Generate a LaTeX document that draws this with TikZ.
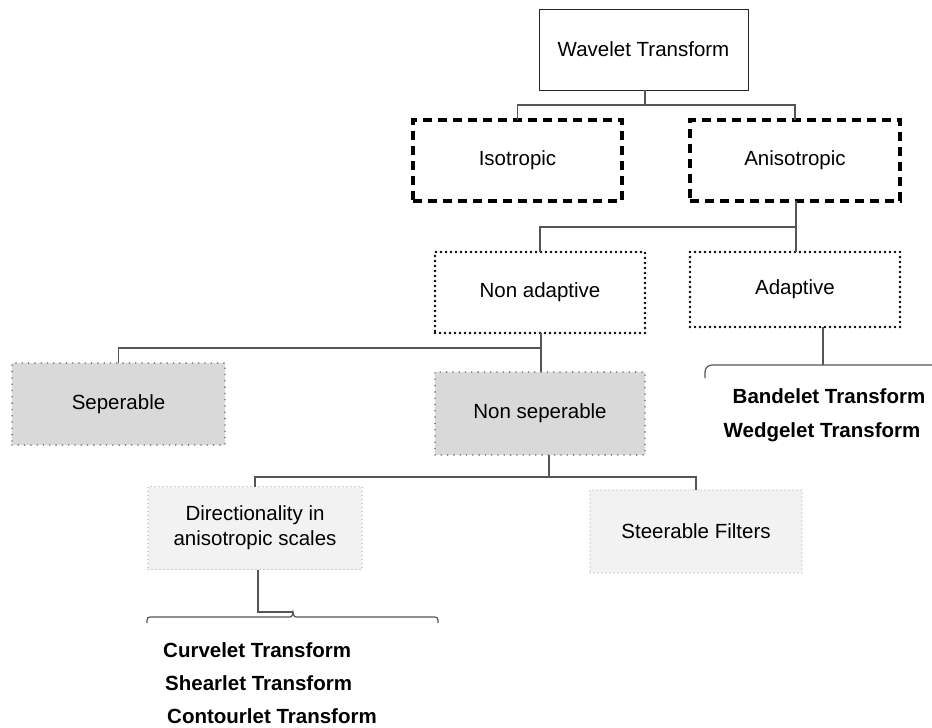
\documentclass[tikz,border=0pt]{standalone}
\usepackage{fontspec}
\setmainfont{Liberation Sans}
\definecolor{connc}{HTML}{555555}
\definecolor{midgray}{HTML}{D9D9D9}
\definecolor{lightgray}{HTML}{F2F2F2}
\definecolor{dotgray}{HTML}{7A7A7A}
\definecolor{dotlight}{HTML}{A6A6A6}
\tikzset{
  basebox/.style={rectangle, inner sep=0pt, outer sep=0pt, align=center,
    font=\fontsize{20.5}{25}\selectfont},
  plainbox/.style={basebox, draw=black!85, line width=1pt, fill=white},
  dashbox/.style={basebox, draw=black, line width=3.2pt, fill=white,
    dash pattern=on 9pt off 6pt},
  dotbox/.style={basebox, draw=black, line width=2.6pt, fill=white,
    line cap=round, dash pattern=on 0pt off 5pt},
  graybox/.style={basebox, draw=dotgray, line width=1.8pt, fill=midgray,
    line cap=round, dash pattern=on 0pt off 6.3pt},
  lightbox/.style={basebox, draw=dotlight, line width=1.4pt, fill=lightgray,
    line cap=round, dash pattern=on 0pt off 4pt},
  conn/.style={draw=connc, line width=1.2pt},
  leaf/.style={inner sep=0pt, font=\fontsize{20.5}{25}\selectfont\bfseries}
}
\begin{document}
\begin{tikzpicture}[x=1pt, y=-1pt]
\useasboundingbox (0,0) rectangle (932,728);

% boxes
\node[plainbox, minimum width=209pt, minimum height=81pt] (wt) at (643.5,49.5) {Wavelet Transform};
\node[dashbox, minimum width=209pt, minimum height=81pt] (iso) at (517.5,160.5) {Isotropic};
\node[dashbox, minimum width=210pt, minimum height=81pt] (ani) at (795,160.5) {Anisotropic};
\node[dotbox, minimum width=210pt, minimum height=81pt] (nonad) at (540,292.5) {Non adaptive};
\node[dotbox, minimum width=210pt, minimum height=75pt] (adap) at (795,289.5) {Adaptive};
\node[graybox, minimum width=213pt, minimum height=82pt] (sep) at (118.5,404) {Seperable};
\node[graybox, minimum width=210pt, minimum height=83pt] (nonsep) at (540,413.5) {Non seperable};
\node[lightbox, minimum width=214pt, minimum height=83pt] (dir) at (255,528) {Directionality in\\anisotropic scales};
\node[lightbox, minimum width=212pt, minimum height=83pt] (steer) at (696,531.5) {Steerable Filters};

% leaf labels
\node[leaf] (band) at (829,396) {Bandelet Transform};
\node[leaf] (wedg) at (822,432) {Wedgelet Transform};
\node[leaf, anchor=west] (curv) at (163,650) {Curvelet Transform};
\node[leaf, anchor=west] (shear) at (165,683) {Shearlet Transform};
\node[leaf, anchor=west] (cont) at (167,716) {Contourlet Transform};

% junction points of the tree
\coordinate (j1) at (645,105);
\coordinate (j2) at (796,227);
\coordinate (j3) at (541,348);
\coordinate (j4) at (549,477);
\coordinate (j5) at (823,365);
\coordinate (j6) at (258,612);
\coordinate (peak) at (293,612);

% connectors
\draw[conn] (j1 |- wt.south) -- (j1);
\draw[conn] (iso.north) |- (j1) -| (ani.north);
\draw[conn] (j2 |- ani.south) -- (j2 |- adap.north);
\draw[conn] (j2) -| (nonad.north);
\draw[conn] (j3 |- nonad.south) -- (j3 |- nonsep.north);
\draw[conn] (j3) -| (sep.north);
\draw[conn] (j4 |- nonsep.south) -- (j4);
\draw[conn] (dir.north) |- (j4) -| (steer.north);
\draw[conn] (j5 |- adap.south) -- (j5);
\draw[conn] (j6 |- dir.south) -- (j6) -- (peak);

% braces above the leaf lists
\draw[conn, rounded corners=7pt] (705,378) -- (705,365) -- (932,365);
\draw[conn] (147,623) .. controls (147,617) .. (154,617) -- (287,617)
  .. controls (292,617) .. (peak) .. controls (294,617) .. (299,617)
  -- (431,617) .. controls (438,617) .. (438,623);
\end{tikzpicture}
\end{document}
